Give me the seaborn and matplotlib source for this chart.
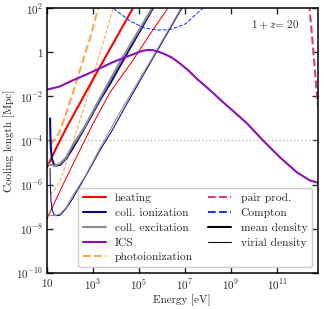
import matplotlib
matplotlib.use("Agg")
import matplotlib.pyplot as plt
import numpy as np
import seaborn as sns

# log10 values (energy in eV, cooling length in Mpc)
ics_log_e = [1.0, 1.57, 2.13, 2.74, 3.30, 3.87, 4.48, 5.04, 5.19, 5.40, 5.62, 6.06, 6.42, 6.78, 7.14,
             7.51, 8.01, 8.52, 9.70, 10.39, 11.13, 11.87, 12.44, 12.80]
ics_log_len = [-1.70, -1.55, -1.27, -1.00, -0.73, -0.45, -0.20, 0.02, 0.07, 0.10, 0.09, -0.06, -0.24, -0.51, -0.82,
               -1.20, -1.65, -2.14, -3.23, -4.00, -4.77, -5.45, -5.82, -5.92]

photo_mean_log_e = [1.135, 1.26, 1.43, 1.61, 1.87, 2.14, 2.43, 2.87, 3.23, 3.34]
photo_mean_log_len = [-4.18, -4.05, -3.82, -3.45, -2.64, -1.80, -0.82, 0.64, 2.00, 2.40]
photo_vir_log_e = [1.135, 1.26, 1.43, 1.61, 1.87, 2.14, 2.43, 2.87, 3.23, 3.57, 3.87, 3.97]
photo_vir_log_len = [-6.45, -6.32, -6.09, -5.73, -4.91, -4.08, -3.09, -1.64, -0.27, 0.86, 2.00, 2.35]

heat_mean_log_e = [1.0, 1.35, 1.86, 2.58, 3.30, 4.74, 4.90]
heat_mean_log_len = [-5.23, -4.45, -3.40, -2.03, -0.67, 2.00, 2.30]
heat_vir_log_e = [1.0, 1.78, 2.96, 3.74, 4.74, 5.48, 6.26, 6.40]
heat_vir_log_len = [-7.55, -5.82, -3.32, -1.82, -0.36, 0.82, 2.00, 2.30]

exc_mean_log_e = [1.009, 1.13, 1.35, 1.57, 1.83, 2.09, 2.65, 3.30, 4.17, 5.57, 5.70]
exc_mean_log_len = [-5.05, -5.11, -5.14, -5.05, -4.77, -4.27, -3.36, -2.09, -0.45, 2.00, 2.30]
exc_vir_log_e = [1.009, 1.13, 1.35, 1.57, 1.83, 2.09, 2.65, 3.30, 4.17, 5.57, 6.83, 6.95]
exc_vir_log_len = [-7.32, -7.39, -7.41, -7.32, -7.05, -6.55, -5.64, -4.36, -2.73, -0.27, 2.00, 2.25]

ion_mean_log_e = [1.135, 1.148, 1.174, 1.217, 1.29, 1.39, 1.57, 1.83, 2.09, 2.52, 2.87, 3.30, 3.78, 4.61, 5.61, 5.75]
ion_mean_log_len = [-3.00, -3.77, -4.45, -4.82, -5.07, -5.14, -5.11, -4.82, -4.41, -3.64, -3.00, -2.18, -1.36, 0.18, 2.00, 2.30]
ion_vir_log_e = [1.135, 1.148, 1.174, 1.217, 1.29, 1.39, 1.57, 1.83, 2.09, 2.52, 2.87, 3.30, 3.78, 4.61, 5.61, 6.87, 7.0]
ion_vir_log_len = [-5.27, -6.05, -6.73, -7.09, -7.34, -7.41, -7.39, -7.09, -6.68, -5.91, -5.27, -4.45, -3.64, -2.09, -0.27, 2.00, 2.25]

compton_log_e = [3.80, 3.87, 4.61, 5.26, 5.83, 6.35, 7.00, 7.78, 7.90]
compton_log_len = [2.20, 2.00, 1.41, 1.09, 1.00, 1.02, 1.27, 2.00, 2.20]

pair_log_e = [12.38, 12.41, 12.52, 12.61, 12.70, 12.78]
pair_log_len = [2.20, 2.00, 0.77, -0.36, -1.50, -2.41]

ref_length = 1e-4

x_ticks = [1e1, 1e3, 1e5, 1e7, 1e9, 1e11]
x_tick_labels = ["$10$", "$10^{3}$", "$10^{5}$", "$10^{7}$", "$10^{9}$", "$10^{11}$"]
y_ticks = [1e2, 1e0, 1e-2, 1e-4, 1e-6, 1e-8, 1e-10]
y_tick_labels = ["$10^{2}$", "$1$", "$10^{-2}$", "$10^{-4}$", "$10^{-6}$", "$10^{-8}$", "$10^{-10}$"]

colors = {
    "heating": "#ff0000",
    "ion": "#0a0a8c",
    "exc": "#8c8c8c",
    "ics": "#8a10b8",
    "photo": "#ffa54a",
    "pair": "#d9406e",
    "compton": "#1f2fff",
}

sns.set_theme(style="ticks")
plt.rcParams.update(
    {
        "font.family": "cmr10",
        "mathtext.fontset": "cm",
        "axes.formatter.use_mathtext": True,
        "axes.unicode_minus": False,
        "font.size": 8,
        "axes.labelsize": 8,
        "legend.fontsize": 8,
        "axes.linewidth": 1.1,
        "axes.edgecolor": "black",
        "xtick.direction": "in",
        "ytick.direction": "in",
        "xtick.top": True,
        "ytick.right": True,
        "xtick.major.size": 4.0,
        "ytick.major.size": 4.0,
        "xtick.major.width": 1.0,
        "ytick.major.width": 1.0,
        "xtick.major.pad": 3.0,
        "ytick.major.pad": 2.5,
        "xtick.labelsize": 8,
        "ytick.labelsize": 8,
    }
)

fig = plt.figure(figsize=(3.24, 3.09), dpi=100)
ax = fig.add_axes([0.145, 0.117, 0.835, 0.857])

thick, thin = 1.5, 0.75


def draw(log_e, log_len, color, lw, ls="-"):
    sns.lineplot(
        x=10 ** np.asarray(log_e),
        y=10 ** np.asarray(log_len),
        ax=ax,
        color=color,
        lw=lw,
        linestyle=ls,
        sort=False,
        estimator=None,
    )


ax.axhline(ref_length, color="#b8b8b8", lw=1.0, ls=":", zorder=1)

draw(photo_mean_log_e, photo_mean_log_len, colors["photo"], thick, "--")
draw(photo_vir_log_e, photo_vir_log_len, colors["photo"], thin, "--")
draw(heat_mean_log_e, heat_mean_log_len, colors["heating"], thick)
draw(heat_vir_log_e, heat_vir_log_len, colors["heating"], thin)
draw(ion_mean_log_e, ion_mean_log_len, colors["ion"], thick)
draw(ion_vir_log_e, ion_vir_log_len, colors["ion"], thin)
draw(exc_mean_log_e, exc_mean_log_len, colors["exc"], thick)
draw(exc_vir_log_e, exc_vir_log_len, colors["exc"], thin)
draw(ics_log_e, ics_log_len, colors["ics"], thick)
draw(compton_log_e, compton_log_len, colors["compton"], thin, "--")
draw(pair_log_e, pair_log_len, colors["pair"], thick, "--")

ax.set_xscale("log")
ax.set_yscale("log")
ax.set_xlim(10, 10 ** 12.76)
ax.set_ylim(1e-10, 1e2)
ax.set_xticks(x_ticks)
ax.set_xticklabels(x_tick_labels)
ax.set_yticks(y_ticks)
ax.set_yticklabels(y_tick_labels)
ax.minorticks_off()
ax.set_xlabel("Energy [eV]", fontsize=8, labelpad=2)
ax.set_ylabel("Cooling length [Mpc]", fontsize=8, labelpad=1)

ax.text(0.845, 0.935, "$1+z$= 20", transform=ax.transAxes, ha="center", va="center", fontsize=8)

handles = [
    plt.Line2D([], [], color=colors["heating"], lw=thick, label="heating"),
    plt.Line2D([], [], color=colors["ion"], lw=thick, label="coll. ionization"),
    plt.Line2D([], [], color=colors["exc"], lw=thick, label="coll. excitation"),
    plt.Line2D([], [], color=colors["ics"], lw=thick, label="ICS"),
    plt.Line2D([], [], color=colors["photo"], lw=thick, ls="--", label="photoionization"),
    plt.Line2D([], [], color=colors["pair"], lw=thick, ls="--", label="pair prod."),
    plt.Line2D([], [], color=colors["compton"], lw=thick, ls="--", label="Compton"),
    plt.Line2D([], [], color="black", lw=thick, label="mean density"),
    plt.Line2D([], [], color="black", lw=thin, label="virial density"),
]
ax.legend(
    handles=handles,
    loc="lower right",
    ncol=2,
    fontsize=8.3,
    frameon=True,
    fancybox=True,
    edgecolor="#cccccc",
    framealpha=1.0,
    borderaxespad=0.5,
    handlelength=2.0,
    labelspacing=0.42,
    columnspacing=1.3,
    borderpad=0.4,
)

fig.savefig("out.png", dpi=100)
